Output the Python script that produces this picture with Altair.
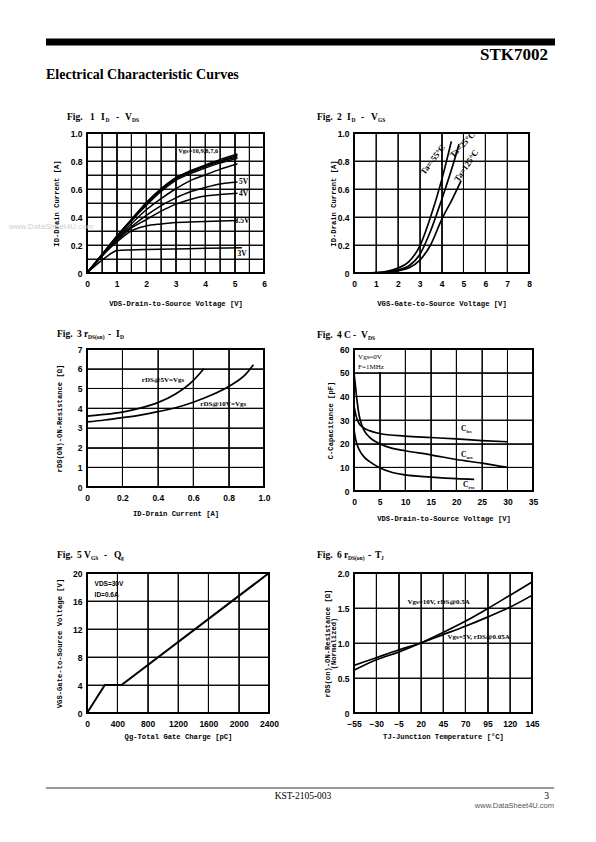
import altair as alt
import pandas as pd

# ---------------- Fig 1: ID - VDS ----------------
f1_vds = [0, 0.5, 1, 1.5, 2, 2.5, 3, 3.5, 4, 4.5, 5.1]
f1_id_10v = [0, 0.13, 0.26, 0.38, 0.50, 0.60, 0.68, 0.73, 0.77, 0.81, 0.85]
f1_id_9v = [0, 0.13, 0.26, 0.38, 0.50, 0.60, 0.675, 0.725, 0.765, 0.80, 0.84]
f1_id_8v = [0, 0.13, 0.255, 0.375, 0.49, 0.59, 0.67, 0.72, 0.76, 0.795, 0.83]
f1_id_7v = [0, 0.125, 0.25, 0.37, 0.48, 0.58, 0.66, 0.71, 0.75, 0.785, 0.82]
f1_id_6v = [0, 0.12, 0.24, 0.35, 0.45, 0.53, 0.60, 0.66, 0.70, 0.74, 0.78]
f1_id_5v = [0, 0.12, 0.24, 0.33, 0.41, 0.48, 0.535, 0.58, 0.61, 0.635, 0.65]
f1_id_4v = [0, 0.12, 0.23, 0.32, 0.38, 0.44, 0.49, 0.525, 0.55, 0.56, 0.57]
f1_vds_35v = [0, 0.5, 1, 1.5, 2, 2.5, 3, 4, 5.1]
f1_id_35v = [0, 0.12, 0.22, 0.30, 0.335, 0.35, 0.36, 0.368, 0.375]
f1_vds_3v = [0, 0.5, 0.9, 1.0, 1.5, 2, 3, 4, 5.25]
f1_id_3v = [0, 0.09, 0.15, 0.16, 0.165, 0.168, 0.172, 0.176, 0.18]
f1_lab_text = ["Vgs=10,9,8,7,6", "5V", "4V", "3.5V", "3V"]
f1_lab_x = [3.09, 5.15, 5.15, 5.0, 5.1]
f1_lab_y = [0.87, 0.65, 0.565, 0.373, 0.135]

# ---------------- Fig 2: ID - VGS ----------------
f2_vgs_m55 = [0.5, 1, 1.5, 2, 2.5, 3, 3.5, 4, 4.45]
f2_id_m55 = [0, 0.003, 0.012, 0.035, 0.08, 0.19, 0.40, 0.66, 0.94]
f2_vgs_25 = [0.7, 1, 1.5, 2, 2.5, 3, 3.5, 4, 4.5, 4.8]
f2_id_25 = [0, 0.002, 0.008, 0.022, 0.05, 0.13, 0.30, 0.52, 0.76, 0.92]
f2_vgs_125 = [0.9, 1.5, 2, 2.5, 3, 3.5, 4, 4.5, 4.9]
f2_id_125 = [0, 0.005, 0.015, 0.035, 0.09, 0.20, 0.38, 0.53, 0.66]
f2_lab_text = ["Ta=-55°C", "Ta=25°C", "Ta=125°C"]
f2_lab_x = [3.3, 4.6, 4.85]
f2_lab_y = [0.69, 0.81, 0.64]

# ---------------- Fig 3: rDS(on) - ID ----------------
f3_id_5v = [0, 0.1, 0.2, 0.3, 0.4, 0.5, 0.6, 0.66]
f3_r_5v = [3.6, 3.68, 3.8, 4.0, 4.28, 4.72, 5.4, 6.0]
f3_id_10v = [0, 0.1, 0.2, 0.3, 0.4, 0.5, 0.6, 0.7, 0.8, 0.9, 0.94]
f3_r_10v = [3.3, 3.4, 3.52, 3.65, 3.82, 4.02, 4.3, 4.65, 5.1, 5.75, 6.2]
f3_lab_text = ["rDS@5V=Vgs", "rDS@10V=Vgs"]
f3_lab_x = [0.31, 0.64]
f3_lab_y = [5.45, 4.2]

# ---------------- Fig 4: C - VDS ----------------
f4_v_ciss = [0, 0.5, 1, 2, 3, 5, 10, 15, 20, 25, 30]
f4_ciss = [36, 31, 28.5, 26.5, 25.5, 24.3, 23.2, 22.6, 22, 21.3, 20.8]
f4_v_coss = [0, 0.3, 0.6, 1, 1.5, 2, 3, 5, 7.5, 10, 15, 20, 25, 30]
f4_coss = [50, 44, 38, 32, 28, 25.5, 22.8, 20, 18, 17, 15.3, 13.3, 11.8, 10]
f4_v_crss = [0, 0.3, 0.7, 1, 2, 3, 5, 7.5, 10, 15, 20, 23.5]
f4_crss = [26, 22, 19, 17.5, 14.3, 12.5, 9.8, 7.8, 6.8, 5.9, 5.2, 4.9]
f4_lab_sub = ["iss", "oss", "rss"]
f4_lab_x = [20.9, 20.9, 21.3]
f4_lab_y = [26.3, 15.4, 2.4]
f4_cond_text = ["Vgs=0V", "F=1MHz"]
f4_cond_x = [0.8, 0.8]
f4_cond_y = [56.5, 52.3]

# ---------------- Fig 5: VGS - Qg ----------------
f5_qg = [0, 235, 455, 2400]
f5_vgs = [0, 4, 4, 20]
f5_cond_text = ["VDS=30V", "ID=0.6A"]
f5_cond_x = [100, 100]
f5_cond_y = [18.5, 16.9]

# ---------------- Fig 6: rDS(on) - TJ ----------------
f6_tj = [-55, -30, -5, 20, 45, 70, 95, 120, 145]
f6_r_10v = [0.61, 0.76, 0.87, 1.0, 1.15, 1.31, 1.49, 1.68, 1.87]
f6_r_5v = [0.68, 0.79, 0.90, 1.0, 1.12, 1.24, 1.37, 1.51, 1.68]
f6_lab_text = ["Vgs=10V, rDS@0.5A", "Vgs=5V, rDS@0.05A"]
f6_lab_x = [5, 50]
f6_lab_y = [1.58, 1.09]

# tick values
f1_xticks = [0, 0.5, 1, 1.5, 2, 2.5, 3, 3.5, 4, 4.5, 5, 5.5, 6]
f1_yticks = [0, 0.1, 0.2, 0.3, 0.4, 0.5, 0.6, 0.7, 0.8, 0.9, 1.0]
f2_xticks = [0, 1, 2, 3, 4, 5, 6, 7, 8]
f2_yticks = [0, 0.2, 0.4, 0.6, 0.8, 1.0]
f3_xticks = [0, 0.2, 0.4, 0.6, 0.8, 1.0]
f3_yticks = [0, 1, 2, 3, 4, 5, 6, 7]
f4_xticks = [0, 5, 10, 15, 20, 25, 30, 35]
f4_yticks = [0, 10, 20, 30, 40, 50, 60]
f5_xticks = [0, 400, 800, 1200, 1600, 2000, 2400]
f5_yticks = [0, 4, 8, 12, 16, 20]
f6_xticks = [-55, -30, -5, 20, 45, 70, 95, 120, 145]
f6_yticks = [0, 0.5, 1.0, 1.5, 2.0]

SERIF = "Liberation Serif"
MONO = "Liberation Mono"
SANS = "Liberation Sans"
ONE = [{"a": 1}]

INT = "format(datum.value, 'd')"
HALF_INT = "datum.value % 1 == 0 ? format(datum.value, 'd') : ''"
DEC1 = "datum.value == 0 ? '0' : format(datum.value, '.1f')"
DEC1_EVEN = "datum.value == 0 ? '0' : (round(datum.value * 10) % 2 == 0 ? format(datum.value, '.1f') : '')"


def lines_df(pairs):
    rows = []
    for name, xs, ys in pairs:
        for xv, yv in zip(xs, ys):
            rows.append({"x": xv, "y": yv, "s": name})
    return pd.DataFrame(rows)


def ptext(txt, dx, dy, size, font=SERIF, weight="bold", align="left",
          baseline="alphabetic", color="black"):
    return alt.Chart(alt.Data(values=ONE)).mark_text(
        text=txt, fontSize=size, font=font, fontWeight=weight, align=align,
        baseline=baseline, color=color
    ).encode(x=alt.value(dx), y=alt.value(dy))


def fig_label(sx, sy, pieces):
    out = []
    for dx, txt, sub in pieces:
        out.append(ptext(txt, sx + dx, sy + (2.5 if sub else 0), 5.5 if sub else 9.5))
    return out


class Panel:
    def __init__(self, xdom, ydom, xvals, xlab, yvals, ylab, xtitle, ytitle,
                 w, h, ytdx, xtdy):
        self.w, self.h = w, h
        self.xsc = alt.Scale(domain=xdom, nice=False, zero=False)
        self.ysc = alt.Scale(domain=ydom, nice=False, zero=False)
        self.xax = alt.Axis(values=xvals, labelExpr=xlab, title=xtitle,
                            titleX=w / 2, titleY=xtdy, titleAlign="center",
                            titleBaseline="middle", titleAngle=0,
                            grid=True, gridColor="#000000", gridWidth=0.9,
                            gridOpacity=1)
        self.yax = alt.Axis(values=yvals, labelExpr=ylab, title=ytitle,
                            titleX=ytdx, titleY=h / 2, titleAngle=270,
                            titleAlign="center", titleBaseline="middle",
                            titleLineHeight=6.5,
                            grid=True, gridColor="#000000", gridWidth=0.9,
                            gridOpacity=1)
        # grid drawn as rules through the panel's own scales
        gx = pd.DataFrame({"x": xvals, "y": [ydom[0]] * len(xvals),
                           "y2": [ydom[1]] * len(xvals)})
        gy = pd.DataFrame({"y": yvals, "x": [xdom[0]] * len(yvals),
                           "x2": [xdom[1]] * len(yvals)})
        self.layers = [
            alt.Chart(gx).mark_rule(color="#000000", strokeWidth=0.9, opacity=1).encode(
                x=self.X(), y=self.Y(), y2="y2:Q"),
            alt.Chart(gy).mark_rule(color="#000000", strokeWidth=0.9, opacity=1).encode(
                x=self.X(), x2="x2:Q", y=self.Y()),
        ]

    def X(self):
        return alt.X("x:Q", scale=self.xsc, axis=self.xax)

    def Y(self):
        return alt.Y("y:Q", scale=self.ysc, axis=self.yax)

    def lines(self, pairs, interp="monotone", sw=1.7):
        self.layers.append(
            alt.Chart(lines_df(pairs)).mark_line(
                color="black", strokeWidth=sw, interpolate=interp, clip=True
            ).encode(x=self.X(), y=self.Y(), detail="s:N"))

    def text(self, xs, ys, texts, size, font=SERIF, weight="bold", dx=0, dy=0,
             align="left", baseline="middle", angle=0):
        df = pd.DataFrame({"x": xs, "y": ys, "t": texts})
        self.layers.append(
            alt.Chart(df).mark_text(
                fontSize=size, font=font, fontWeight=weight, align=align,
                baseline=baseline, color="black", dx=dx, dy=dy, angle=angle
            ).encode(x=self.X(), y=self.Y(), text="t:N"))

    def box(self, x0, x1, y0, y1):
        df = pd.DataFrame({"x": [x0], "x2": [x1], "y": [y0], "y2": [y1]})
        self.layers.append(
            alt.Chart(df).mark_rect(color="white").encode(
                x=self.X(), x2="x2:Q", y=self.Y(), y2="y2:Q"))

    def add(self, extra):
        self.layers.extend(extra)

    def chart(self):
        return alt.layer(*self.layers).properties(width=self.w, height=self.h)


def spacer(h):
    return alt.Chart(alt.Data(values=ONE)).mark_point(opacity=0).encode(
        x=alt.value(0), y=alt.value(0)
    ).properties(width=1, height=h,
                 view=alt.ViewBackground(strokeOpacity=0, strokeWidth=0))


# ---------- page decorations (relative to Fig 1 plot origin) ----------
header = [
    alt.Chart(alt.Data(values=ONE)).mark_rect(color="black").encode(
        x=alt.value(-41), x2=alt.value(468), y=alt.value(-94.4), y2=alt.value(-87.6)),
    ptext("STK7002", 461, -73.5, 17, align="right"),
    ptext("Electrical Characteristic Curves", -41, -54, 14),
    ptext("www.DataSheet4U.com", -78, 94, 8, font=SANS, weight="normal",
          baseline="middle", color="#cfcfcf"),
]

footer = [
    alt.Chart(alt.Data(values=ONE)).mark_rule(color="black", strokeWidth=0.8).encode(
        x=alt.value(-41), x2=alt.value(467), y=alt.value(215)),
    ptext("KST-2105-003", 216, 226, 9.5, weight="normal", align="center"),
    ptext("3", 462, 226, 9.5, weight="normal", align="right"),
    ptext("www.DataSheet4U.com", 467, 235, 7.5, font=SANS, weight="normal",
          align="right", color="#555555"),
]

# ---------- Fig 1 ----------
p1 = Panel([0, 6], [0, 1], f1_xticks, HALF_INT, f1_yticks, DEC1_EVEN,
           "VDS-Drain-to-Source Voltage [V]", "ID-Drain Current [A]",
           177, 140, -31, 30)
p1.lines([("10V", f1_vds, f1_id_10v), ("9V", f1_vds, f1_id_9v), ("8V", f1_vds, f1_id_8v),
          ("7V", f1_vds, f1_id_7v), ("6V", f1_vds, f1_id_6v), ("5V", f1_vds, f1_id_5v),
          ("4V", f1_vds, f1_id_4v), ("3.5V", f1_vds_35v, f1_id_35v),
          ("3V", f1_vds_3v, f1_id_3v)], sw=1.5)
p1.text(f1_lab_x[:1], f1_lab_y[:1], f1_lab_text[:1], 6.5)
p1.text(f1_lab_x[1:], f1_lab_y[1:], f1_lab_text[1:], 7.5)
p1.add(fig_label(-20, -13.5, [(0, "Fig.", False), (23, "1", False), (34, "I", False),
                              (38.5, "D", True), (49, "-", False), (58, "V", False),
                              (65, "DS", True)]))
p1.add(header)
fig1 = p1.chart()

# ---------- Fig 2 ----------
p2 = Panel([0, 8], [0, 1], f2_xticks, INT, f2_yticks, DEC1,
           "VGS-Gate-to-Source Voltage [V]", "ID-Drain Current [A]",
           175, 140, -21, 30)
p2.lines([("-55", f2_vgs_m55, f2_id_m55), ("25", f2_vgs_25, f2_id_25),
          ("125", f2_vgs_125, f2_id_125)])
f2_rot = [307, 314, 304]
for i in range(3):
    p2.text([f2_lab_x[i]], [f2_lab_y[i]], [f2_lab_text[i]], 8.5,
            baseline="bottom", angle=f2_rot[i])
p2.add(fig_label(-37, -13.5, [(0, "Fig.", False), (20, "2", False), (30, "I", False),
                              (34.5, "D", True), (44, "-", False), (54, "V", False),
                              (61, "GS", True)]))
fig2 = p2.chart()

# ---------- Fig 3 ----------
p3 = Panel([0, 1], [0, 7], f3_xticks, DEC1, f3_yticks, INT,
           "ID-Drain Current [A]", "rDS(ON)-ON-Resistance [Ω]",
           177, 138, -28, 26)
p3.lines([("5V", f3_id_5v, f3_r_5v), ("10V", f3_id_10v, f3_r_10v)])
p3.text(f3_lab_x, f3_lab_y, f3_lab_text, 7)
p3.add(fig_label(-30, -12.5, [(0, "Fig.", False), (20, "3", False), (27, "r", False),
                              (31, "DS(on)", True), (51, "-", False), (59, "I", False),
                              (63, "D", True)]))
fig3 = p3.chart()

# ---------- Fig 4 ----------
p4 = Panel([0, 35], [0, 60], f4_xticks, INT, f4_yticks, INT,
           "VDS-Drain-to-Source Voltage [V]", "C-Capacitance [pF]",
           179, 142, -24, 27)
p4.box(0.25, 9.85, 50.3, 59.6)
p4.lines([("Ciss", f4_v_ciss, f4_ciss), ("Coss", f4_v_coss, f4_coss),
          ("Crss", f4_v_crss, f4_crss)])
p4.text(f4_cond_x, f4_cond_y, f4_cond_text, 7, weight="normal")
p4.text(f4_lab_x, f4_lab_y, ["C", "C", "C"], 7.5)
p4.text(f4_lab_x, f4_lab_y, f4_lab_sub, 5, dx=5.5, dy=2)
p4.add(fig_label(-37, -11.5, [(0, "Fig.", False), (20, "4", False), (27, "C", False),
                              (36, "-", False), (44, "V", False), (51, "DS", True)]))
fig4 = p4.chart()

# ---------- Fig 5 ----------
p5 = Panel([0, 2400], [0, 20], f5_xticks, INT, f5_yticks, INT,
           "Qg-Total Gate Charge [pC]", "VGS-Gate-to-Source Voltage [V]",
           182, 140, -28, 23)
p5.lines([("vgs", f5_qg, f5_vgs)], interp="linear", sw=2)
p5.text(f5_cond_x, f5_cond_y, f5_cond_text, 6.5, font=SANS)
p5.add(fig_label(-30, -15.5, [(0, "Fig.", False), (20, "5", False), (27, "V", False),
                              (34, "GS", True), (47, "-", False), (57, "Q", False),
                              (64, "g", True)]))
p5.add(footer)
fig5 = p5.chart()

# ---------- Fig 6 ----------
p6 = Panel([-55, 145], [0, 2], f6_xticks, INT, f6_yticks, DEC1,
           "TJ-Junction Temperature [°C]", ["rDS(on)-ON-Resistance [Ω]", "(Normalized)"],
           178, 140, -27, 23)
p6.lines([("10V", f6_tj, f6_r_10v), ("5V", f6_tj, f6_r_5v)])
p6.text(f6_lab_x, f6_lab_y, f6_lab_text, 7)
p6.add(fig_label(-37, -15.5, [(0, "Fig.", False), (20, "6", False), (27, "r", False),
                              (31, "DS(on)", True), (51, "-", False), (58, "T", False),
                              (64, "J", True)]))
fig6 = p6.chart()

chart = alt.concat(
    fig1, fig2, spacer(76), spacer(76), fig3, fig4, spacer(82), spacer(82), fig5, fig6,
    columns=2, spacing={"row": 0, "column": 85}, bounds="flush", align="each",
).properties(
    padding={"left": 0, "top": 29, "right": 5, "bottom": 5}
).configure_view(
    stroke="black", strokeWidth=2
).configure_axis(
    domain=False, ticks=False, tickSize=0,
    labelFont=SANS, labelFontSize=8.5,
    labelFontWeight="bold", labelColor="black", labelPadding=5,
    labelOverlap=False, labelFlush=False, labelBound=False,
    titleFont=MONO, titleFontSize=7.2, titleFontWeight="bold", titleColor="black",
).configure_axisX(labelPadding=6)

chart.save("out.html", embed_options={"renderer": "svg", "actions": False})
